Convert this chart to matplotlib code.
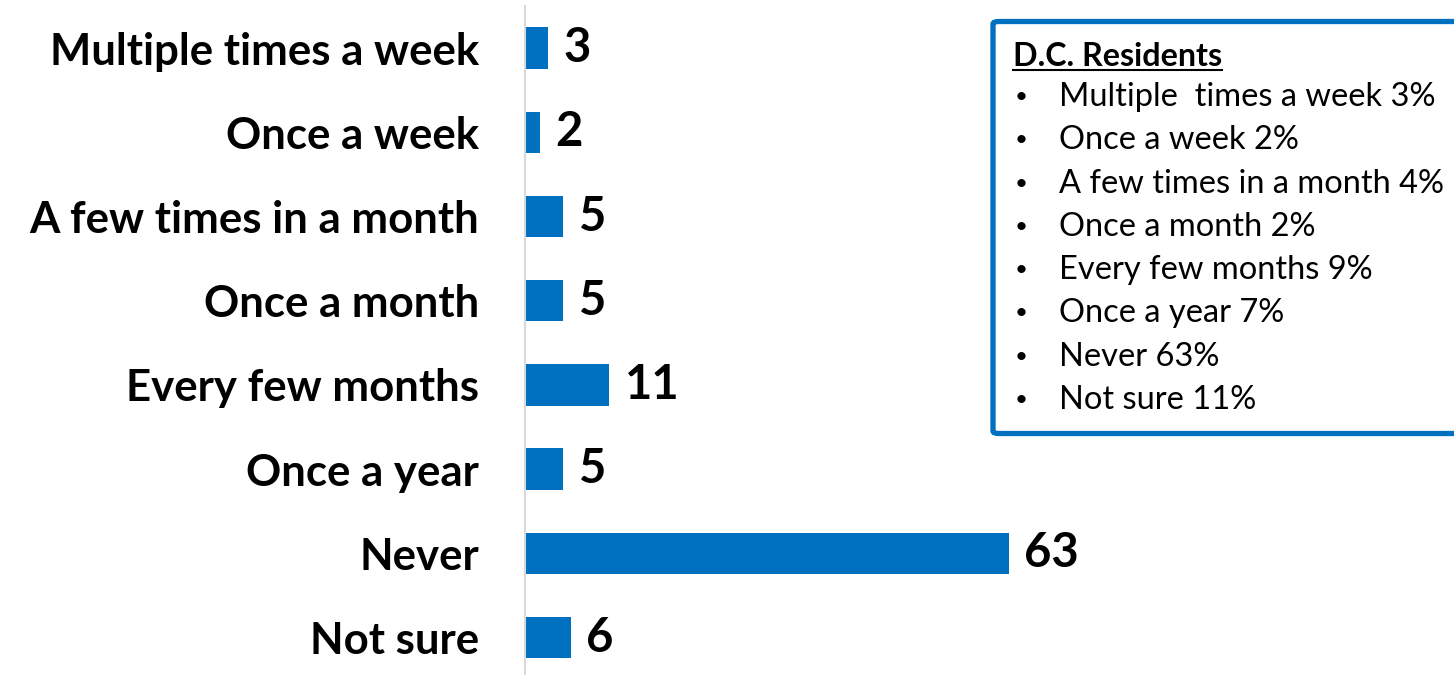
import matplotlib
matplotlib.use("Agg")
from matplotlib import pyplot as plt
from matplotlib.patches import FancyBboxPatch
from matplotlib.lines import Line2D

categories = [
    "Multiple times a week",
    "Once a week",
    "A few times in a month",
    "Once a month",
    "Every few months",
    "Once a year",
    "Never",
    "Not sure",
]
values = [3, 2, 5, 5, 11, 5, 63, 6]

legend_title = "D.C. Residents"
legend_items = [
    "Multiple  times a week 3%",
    "Once a week 2%",
    "A few times in a month 4%",
    "Once a month 2%",
    "Every few months 9%",
    "Once a year 7%",
    "Never 63%",
    "Not sure 11%",
]

BLUE = "#0070C0"
W, H = 1454, 675
plt.rcParams["font.family"] = ["Lato", "DejaVu Sans"]

fig = plt.figure(figsize=(W / 100, H / 100), dpi=100)
ax = fig.add_axes([525 / W, 0, 1 - 525 / W, 1 - 6 / H])

pos = list(range(len(categories)))
ax.barh(pos, values, height=0.49, color=BLUE)
ax.set_ylim(len(categories) - 1 + 0.445, -0.5)
ax.set_xlim(0, (W - 525) / 7.68)

for y, v in zip(pos, values):
    ax.text(v + 2.0, y, str(v), va="center", ha="left",
            fontsize=34, fontweight="bold", color="black")

ax.set_yticks(pos)
ax.set_yticklabels(categories, fontsize=31.5, fontweight="bold")
ax.tick_params(axis="y", length=0, pad=33)
ax.set_xticks([])
for side in ["top", "right", "bottom"]:
    ax.spines[side].set_visible(False)
ax.spines["left"].set_color("#D9D9D9")
ax.spines["left"].set_linewidth(1.5)


# legend box, in pixel coordinates of the figure
def fx(px):
    return px / W


def fy(py):
    return 1 - py / H


box = FancyBboxPatch((fx(993), fy(433.5)), fx(520), fy(21.5) - fy(433.5),
                     boxstyle="round,pad=0,rounding_size=0.004",
                     transform=fig.transFigure, facecolor="white",
                     edgecolor=BLUE, linewidth=3.8, clip_on=False)
fig.patches.append(box)

title = fig.text(fx(1013), fy(56), legend_title, fontsize=23.2, fontweight="bold",
                 va="center", ha="left")
fig.canvas.draw()
bb = title.get_window_extent()
fig.add_artist(Line2D([bb.x0 / W, bb.x1 / W], [fy(70), fy(70)],
                      transform=fig.transFigure, color="black", lw=1.5))

for i, item in enumerate(legend_items):
    y = 97 + i * 43.3
    fig.text(fx(1015), fy(y), "\u2022", fontsize=16, va="center", ha="left")
    fig.text(fx(1059), fy(y), item, fontsize=23.5, va="center", ha="left")

fig.savefig("out.png", dpi=100, facecolor="w")
